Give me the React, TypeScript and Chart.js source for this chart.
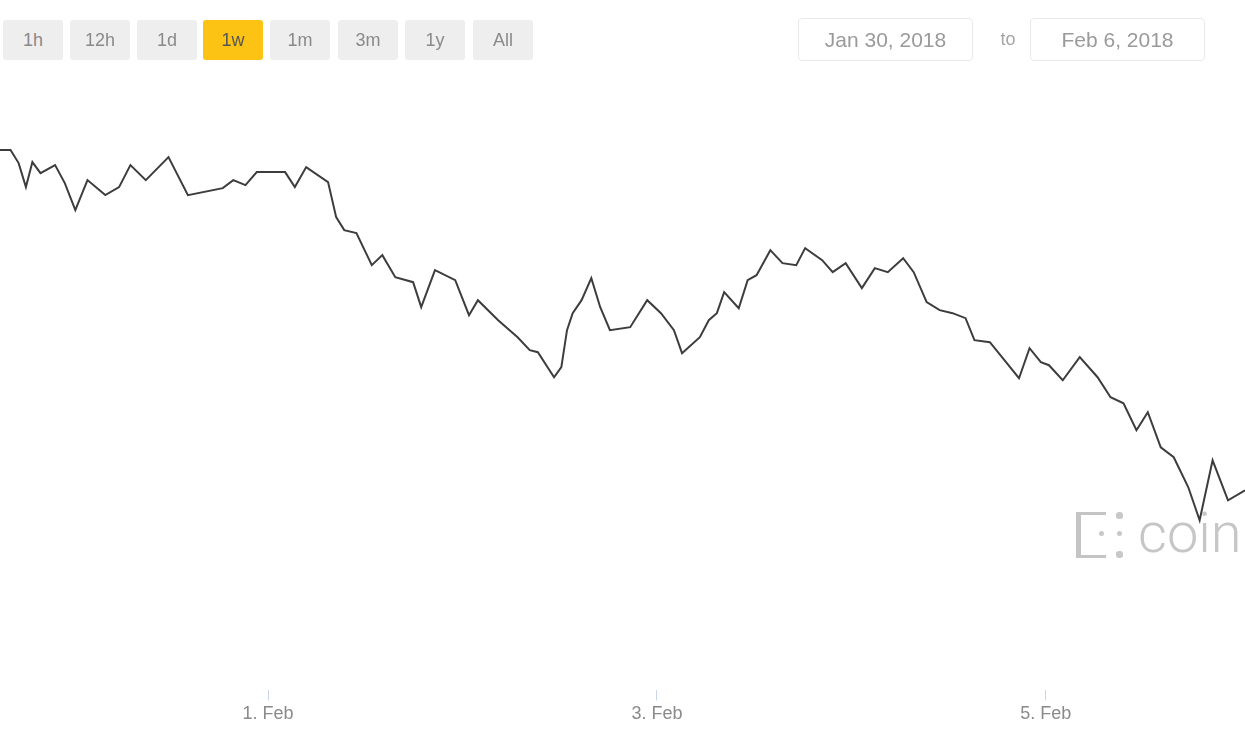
import React, { useEffect, useRef } from "react";
import { Chart, registerables } from "chart.js";

Chart.register(...registerables);

// hours since 30 Jan 2018 00:00
const HOURS = [
  14.9, 16.2, 17.2, 18.1, 18.9, 19.9, 21.7, 22.9, 24.2, 25.7, 27.9, 29.6, 31.0, 32.9, 35.7, 38.1,
  42.4, 43.7, 45.2, 46.6, 50.1, 51.3, 52.7, 55.4, 56.4, 57.4, 58.9, 60.8, 62.1, 63.7, 65.9, 66.9,
  68.6, 71.1, 72.8, 73.9, 76.4, 78.8, 80.3, 81.3, 83.3, 84.2, 84.9, 85.6, 86.7, 87.9, 89.0, 90.2,
  92.7, 94.8, 96.5, 98.1, 99.1, 101.3, 102.4, 103.4, 104.3, 106.1, 107.2, 108.3, 110.0, 111.5,
  113.2, 114.3, 116.4, 117.7, 119.3, 121.3, 122.9, 124.5, 126.4, 127.7, 129.3, 130.9, 132.5,
  134.1, 135.2, 137.1, 138.4, 140.7, 142.0, 143.4, 144.4, 146.1, 148.2, 150.4, 152.0, 153.6,
  155.2, 156.6, 158.2, 159.8, 161.6, 163.0, 164.6, 166.5, 168.6,
];

const PRICES = [
  11750, 11750, 11555, 11195, 11570, 11405, 11525, 11255, 10850, 11300, 11075, 11195, 11525, 11300,
  11645, 11075, 11180, 11300, 11225, 11420, 11420, 11195, 11495, 11270, 10745, 10550, 10505, 10025,
  10175, 9845, 9770, 9395, 9950, 9800, 9275, 9500, 9200, 8945, 8750, 8720, 8345, 8495, 9050, 9305,
  9500, 9830, 9395, 9050, 9095, 9500, 9305, 9050, 8705, 8945, 9200, 9305, 9620, 9380, 9800, 9875,
  10250, 10055, 10025, 10280, 10100, 9920, 10055, 9680, 9980, 9920, 10130, 9920, 9470, 9350, 9305,
  9230, 8900, 8870, 8675, 8330, 8780, 8570, 8525, 8300, 8645, 8345, 8045, 7955, 7550, 7820, 7295,
  7145, 6695, 6200, 7100, 6500, 6650,
];

const TICK_HOURS = [48, 96, 144];
const TICK_LABELS = ["1. Feb", "3. Feb", "5. Feb"];
const RANGE_BUTTONS = ["1h", "12h", "1d", "1w", "1m", "3m", "1y", "All"];
const SELECTED_BUTTON = "1w";
const DATE_FROM = "Jan 30, 2018";
const DATE_TO = "Feb 6, 2018";

const X_MIN = 14.9;
const X_MAX = 168.6;
const Y_MIN = 3650;
const Y_MAX = 14000;

const UI_FONT = "'Liberation Sans', Arial, sans-serif";

export default function App() {
  const canvasRef = useRef<HTMLCanvasElement | null>(null);

  useEffect(() => {
    const canvas = canvasRef.current;
    if (!canvas) return;
    const chart = new Chart(canvas, {
      type: "line",
      data: {
        datasets: [
          {
            data: HOURS.map((h, i) => ({ x: h, y: PRICES[i] })),
            borderColor: "#3d3d3d",
            borderWidth: 2,
            pointRadius: 0,
            tension: 0,
            fill: false,
          },
        ],
      },
      options: {
        animation: false,
        responsive: false,
        devicePixelRatio: 1,
        layout: { padding: { top: 0, left: 0, right: 0, bottom: 22 } },
        plugins: { legend: { display: false }, tooltip: { enabled: false }, title: { display: false } },
        scales: {
          x: {
            type: "linear",
            min: X_MIN,
            max: X_MAX,
            afterBuildTicks: (axis: any) => {
              axis.ticks = TICK_HOURS.map((v) => ({ value: v }));
            },
            grid: {
              drawOnChartArea: false,
              drawTicks: true,
              tickLength: 10,
              tickColor: "#ccd6eb",
              color: "#ccd6eb",
            },
            border: { display: false },
            ticks: {
              padding: 3,
              color: "#8a8a8a",
              font: { family: UI_FONT, size: 18 },
              maxRotation: 0,
              autoSkip: false,
              callback: (value: any) => {
                const idx = TICK_HOURS.indexOf(Number(value));
                return idx >= 0 ? TICK_LABELS[idx] : "";
              },
            },
          },
          y: {
            display: false,
            min: Y_MIN,
            max: Y_MAX,
          },
        },
      },
    });
    return () => chart.destroy();
  }, []);

  const btnLefts = [3, 70, 137, 203, 270, 338, 405, 473];

  return (
    <div
      style={{
        position: "absolute",
        left: 0,
        top: 0,
        width: 1245,
        height: 750,
        overflow: "hidden",
        background: "#ffffff",
        fontFamily: UI_FONT,
      }}
    >
      {/* watermark */}
      <div style={{ position: "absolute", left: 1075, top: 510, width: 50, height: 50 }}>
        <div
          style={{
            position: "absolute",
            left: 1,
            top: 2,
            width: 30,
            height: 46,
            borderLeft: "5px solid #c4c4c4",
            borderTop: "3px solid #c4c4c4",
            borderBottom: "3px solid #c4c4c4",
            boxSizing: "border-box",
          }}
        />
        <div style={{ position: "absolute", left: 24, top: 21, width: 5, height: 5, background: "#c8c8c8", borderRadius: 3 }} />
        <div style={{ position: "absolute", left: 42, top: 21, width: 5, height: 5, background: "#c8c8c8", borderRadius: 3 }} />
        <div style={{ position: "absolute", left: 41, top: 2, width: 7, height: 7, background: "#c8c8c8", borderRadius: 3 }} />
        <div style={{ position: "absolute", left: 41, top: 41, width: 7, height: 7, background: "#c8c8c8", borderRadius: 3 }} />
      </div>
      <div
        style={{
          position: "absolute",
          left: 1138,
          top: 505,
          fontFamily: "Roboto, 'Open Sans', sans-serif",
          fontWeight: 300,
          fontSize: 56,
          lineHeight: "56px",
          color: "#c6c6c6",
          whiteSpace: "nowrap",
        }}
      >
        coinmarketcap
      </div>

      <canvas
        ref={canvasRef}
        width={1245}
        height={750}
        style={{ position: "absolute", left: 0, top: 0, width: 1245, height: 750 }}
      />

      {/* range buttons */}
      {RANGE_BUTTONS.map((b, i) => (
        <div
          key={b}
          style={{
            position: "absolute",
            left: btnLefts[i],
            top: 20,
            width: 60,
            height: 40,
            borderRadius: 3,
            background: b === SELECTED_BUTTON ? "#fcc314" : "#eeeeee",
            color: b === SELECTED_BUTTON ? "#555" : "#8a8a8a",
            fontSize: 18,
            lineHeight: "40px",
            textAlign: "center",
          }}
        >
          {b}
        </div>
      ))}

      {/* date range */}
      <div
        style={{
          position: "absolute",
          left: 798,
          top: 18,
          width: 175,
          height: 43,
          boxSizing: "border-box",
          border: "1px solid #e9e9e9",
          borderRadius: 4,
          color: "#9a9a9a",
          fontSize: 21,
          lineHeight: "41px",
          textAlign: "center",
          whiteSpace: "nowrap",
        }}
      >
        {DATE_FROM}
      </div>
      <div
        style={{
          position: "absolute",
          left: 993,
          top: 18,
          width: 30,
          height: 43,
          color: "#a5a5a5",
          fontSize: 18,
          lineHeight: "43px",
          textAlign: "center",
        }}
      >
        to
      </div>
      <div
        style={{
          position: "absolute",
          left: 1030,
          top: 18,
          width: 175,
          height: 43,
          boxSizing: "border-box",
          border: "1px solid #e9e9e9",
          borderRadius: 4,
          color: "#9a9a9a",
          fontSize: 21,
          lineHeight: "41px",
          textAlign: "center",
          whiteSpace: "nowrap",
        }}
      >
        {DATE_TO}
      </div>
    </div>
  );
}
